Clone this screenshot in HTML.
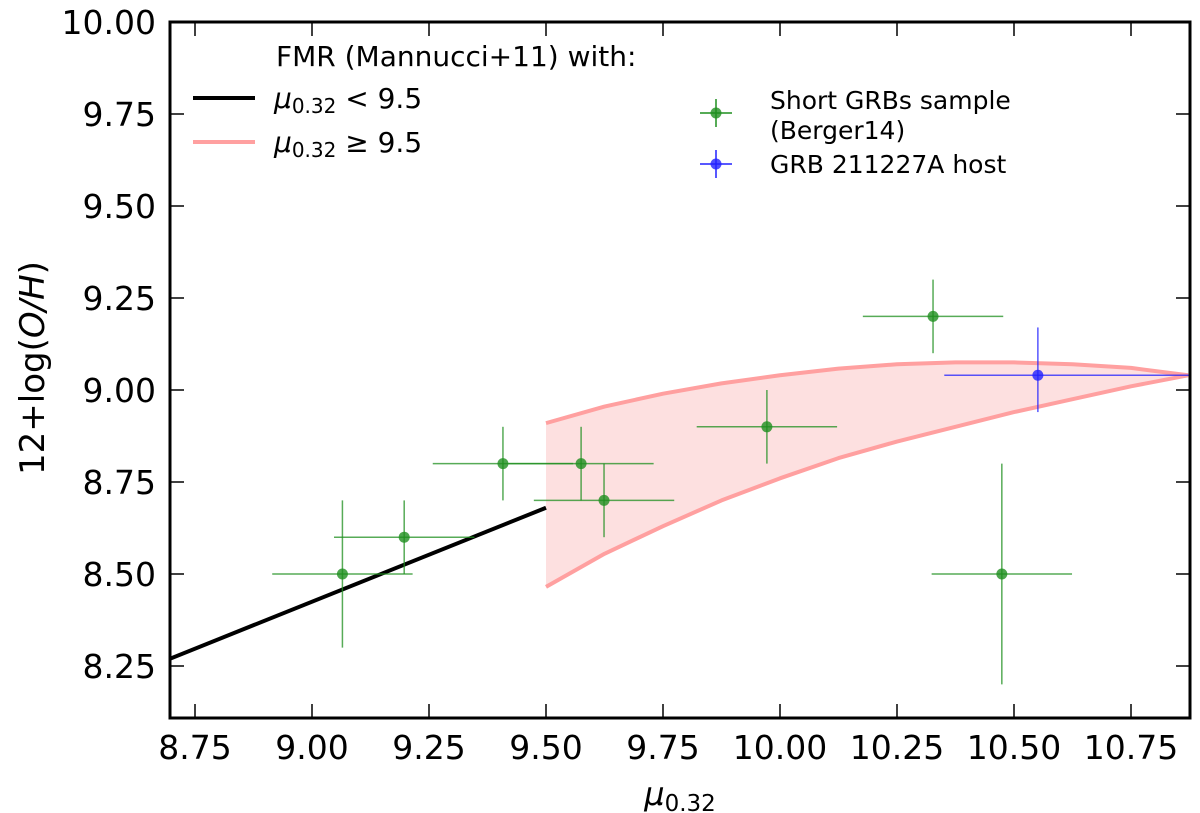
<!DOCTYPE html>
<html><head><meta charset="utf-8"><style>
body{margin:0;background:#fff;}
svg{display:block;font-family:"DejaVu Sans","Liberation Sans",sans-serif;}
</style></head><body>
<svg id="chart" width="1200" height="813" viewBox="0 0 1200 813">
<g id="marks"></g>
<g id="axes"></g>
</svg>
<script>
const xTicks=[8.75,9.00,9.25,9.50,9.75,10.00,10.25,10.50,10.75];
const yTicks=[8.25,8.50,8.75,9.00,9.25,9.50,9.75,10.00];
const lowX=[8.697,9.5];
const lowY=[8.27,8.68];
const bandX=[9.5,9.625,9.75,9.875,10.0,10.125,10.25,10.375,10.5,10.625,10.75,10.872];
const bandUpper=[8.91,8.955,8.99,9.018,9.04,9.058,9.07,9.075,9.075,9.07,9.06,9.04];
const bandLower=[8.465,8.555,8.63,8.70,8.76,8.815,8.86,8.90,8.94,8.975,9.01,9.04];
const grbX=[9.065,9.197,9.408,9.575,9.624,9.972,10.327,10.474];
const grbY=[8.50,8.60,8.80,8.80,8.70,8.90,9.20,8.50];
const grbXerr=[0.15,0.15,0.15,0.155,0.15,0.15,0.15,0.15];
const grbYerr=[0.2,0.1,0.1,0.1,0.1,0.1,0.1,0.3];
const hostX=[10.551];
const hostY=[9.04];
const hostXerrLo=[0.2];
const hostXerrHi=[0.4];
const hostYerrLo=[0.10];
const hostYerrHi=[0.13];

const L=170,R=1190,T=22,B=718;
const px=x=>195+(x-8.75)*468;
const py=y=>22+(10-y)*368;
const NS='http://www.w3.org/2000/svg';
function mk(tag,attrs,parent){const e=document.createElementNS(NS,tag);for(const k in attrs)e.setAttribute(k,attrs[k]);parent.appendChild(e);return e;}
const marks=document.getElementById('marks'),axes=document.getElementById('axes');
const clip=mk('clipPath',{id:'cp'},document.getElementById('chart'));
mk('rect',{x:L,y:T,width:R-L,height:B-T},clip);
marks.setAttribute('clip-path','url(#cp)');

let d='M'+bandX.map((x,i)=>px(x)+','+py(bandUpper[i])).join('L');
for(let i=bandX.length-1;i>=0;i--)d+='L'+px(bandX[i])+','+py(bandLower[i]);
const band=mk('path',{d:d+'Z',fill:'#fde0e0',stroke:'none'},marks);


const up=mk('polyline',{points:bandX.map((x,i)=>px(x)+','+py(bandUpper[i])).join(' '),fill:'none',stroke:'#ffa0a0','stroke-width':4,'stroke-linejoin':'round'},marks);


const lo=mk('polyline',{points:bandX.map((x,i)=>px(x)+','+py(bandLower[i])).join(' '),fill:'none',stroke:'#ffa0a0','stroke-width':4,'stroke-linejoin':'round'},marks);


const bl=mk('polyline',{points:lowX.map((x,i)=>px(x)+','+py(lowY[i])).join(' '),fill:'none',stroke:'#000','stroke-width':4},marks);



function pt(x,y,xe1,xe2,ye1,ye2,col,name){
  const g=mk('g',{},marks);
  
  
  mk('line',{x1:px(x-xe1),y1:py(y),x2:px(x+xe2),y2:py(y),stroke:col,'stroke-width':1.5,opacity:0.75},g);
  mk('line',{x1:px(x),y1:py(y-ye1),x2:px(x),y2:py(y+ye2),stroke:col,'stroke-width':1.5,opacity:0.75},g);
  mk('circle',{cx:px(x),cy:py(y),r:5.5,fill:col,opacity:0.8},g);
}
grbX.forEach((x,i)=>pt(x,grbY[i],grbXerr[i],grbXerr[i],grbYerr[i],grbYerr[i],'#1f8f1f','grb-point'));
hostX.forEach((x,i)=>pt(x,hostY[i],hostXerrLo[i],hostXerrHi[i],hostYerrLo[i],hostYerrHi[i],'#2020ff','host-point'));

const fr=mk('rect',{x:L,y:T,width:R-L,height:B-T,fill:'none',stroke:'#000','stroke-width':3},axes);


xTicks.forEach(v=>{
  const x=px(v);
  mk('line',{x1:x,y1:B,x2:x,y2:B-14,stroke:'#000','stroke-width':1.5},axes);
  mk('line',{x1:x,y1:T,x2:x,y2:T+14,stroke:'#000','stroke-width':1.5},axes);
  const t=mk('text',{x:x,y:B+41,'text-anchor':'middle','font-size':33},axes);
  t.textContent=v.toFixed(2);
  
  
});
yTicks.forEach(v=>{
  const y=py(v);
  mk('line',{x1:L,y1:y,x2:L+14,y2:y,stroke:'#000','stroke-width':1.5},axes);
  mk('line',{x1:R,y1:y,x2:R-14,y2:y,stroke:'#000','stroke-width':1.5},axes);
  const t=mk('text',{x:L-14,y:y+12,'text-anchor':'end','font-size':33},axes);
  t.textContent=v.toFixed(2);
  
  
});
</script>
<svg style="position:absolute;left:0;top:0" width="1200" height="813">
<text x="680" y="805" text-anchor="middle" font-size="32"><tspan font-style="italic">μ</tspan><tspan font-size="23" dy="6">0.32</tspan></text>
<text transform="translate(44,368) rotate(-90)" text-anchor="middle" font-size="34">12+log(<tspan font-style="italic">O/H</tspan>)</text>
<g>
<text x="276" y="66" font-size="28">FMR (Mannucci+11) with:</text>
<line x1="193" y1="98" x2="255" y2="98" stroke="#000" stroke-width="4"/>
<text x="274" y="108" font-size="28"><tspan font-style="italic">μ</tspan><tspan font-size="20" dy="5">0.32</tspan><tspan dy="-5"> &lt; 9.5</tspan></text>
<line x1="193" y1="142" x2="255" y2="142" stroke="#ffa0a0" stroke-width="4"/>
<text x="274" y="152" font-size="28"><tspan font-style="italic">μ</tspan><tspan font-size="20" dy="5">0.32</tspan><tspan dy="-5"> ≥ 9.5</tspan></text>
</g>
<g>
<line x1="700" y1="113" x2="732" y2="113" stroke="#1f8f1f" stroke-width="1.5"/>
<line x1="716" y1="99" x2="716" y2="127" stroke="#1f8f1f" stroke-width="1.5"/>
<circle cx="716" cy="113" r="5.5" fill="#1f8f1f" opacity="0.8"/>
<text x="770" y="109" font-size="25">Short GRBs sample</text>
<text x="770" y="139" font-size="25">(Berger14)</text>
<line x1="700" y1="164" x2="732" y2="164" stroke="#2020ff" stroke-width="1.5"/>
<line x1="716" y1="150" x2="716" y2="178" stroke="#2020ff" stroke-width="1.5"/>
<circle cx="716" cy="164" r="5.5" fill="#2020ff" opacity="0.8"/>
<text x="770" y="173" font-size="25">GRB 211227A host</text>
</g>
</svg>
</body></html>
